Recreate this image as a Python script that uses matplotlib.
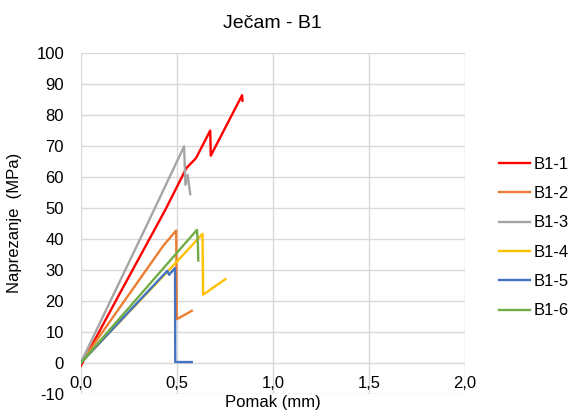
import matplotlib.pyplot as plt

plt.rcParams['font.family'] = ['Liberation Sans', 'DejaVu Sans']
plt.rcParams['axes.unicode_minus'] = False

# B1-1 .. B1-6: pomak (mm), naprezanje (MPa)
x1 = [0.0, 0.20, 0.44, 0.55, 0.60, 0.674, 0.677, 0.84, 0.842]
y1 = [-1.0, 22.0, 49.3, 62.8, 66.0, 74.9, 66.8, 86.3, 84.5]
x2 = [0.0, 0.43, 0.497, 0.50, 0.578]
y2 = [0.0, 37.8, 42.7, 14.1, 16.8]
x3 = [0.0, 0.36, 0.538, 0.545, 0.557, 0.57]
y3 = [0.0, 46.5, 69.8, 57.4, 60.6, 54.4]
x4 = [0.0, 0.465, 0.634, 0.637, 0.753]
y4 = [0.0, 30.3, 41.6, 22.0, 27.0]
x5 = [0.0, 0.451, 0.46, 0.491, 0.492, 0.578]
y5 = [0.0, 29.7, 28.4, 30.6, 0.3, 0.3]
x6 = [0.0, 0.605, 0.61, 0.612]
y6 = [0.0, 42.9, 38.0, 33.0]

labels = ['B1-1', 'B1-2', 'B1-3', 'B1-4', 'B1-5', 'B1-6']
boje = ['#ff0000', '#ed7d31', '#a5a5a5', '#ffc000', '#4472c4', '#70ad47']

fig = plt.figure(figsize=(5.76, 4.19), dpi=100)
ax = fig.add_axes([0.1401, 0.0597, 0.6672, 0.8146])

podaci = [(x1, y1), (x2, y2), (x3, y3), (x4, y4), (x5, y5), (x6, y6)]
for (x, y), lab, c in zip(podaci, labels, boje):
    ax.plot(x, y, color=c, lw=1.7, label=lab)

ax.set_xlim(0, 2.0)
ax.set_ylim(-10, 100)
ax.set_xticks([0, 0.5, 1.0, 1.5, 2.0])
ax.set_xticklabels(['0,0', '0,5', '1,0', '1,5', '2,0'])
ax.set_yticks(range(-10, 101, 10))
ax.grid(True, color='#d9d9d9', lw=1)
ax.set_axisbelow(True)
for s in ax.spines.values():
    s.set_visible(False)
ax.tick_params(length=0, labelsize=12, colors='#000000')
ax.tick_params(axis='y', pad=12)
ax.tick_params(axis='x', pad=-13)

ax.set_title('Ječam - B1', fontsize=14, pad=18)
ax.set_xlabel('Pomak (mm)', fontsize=12, labelpad=1)
ax.set_ylabel('Naprezanje  (MPa)', fontsize=12, labelpad=10)

ax.legend(loc='center left', bbox_to_anchor=(1.049, 0.458), frameon=False,
          fontsize=12, handlelength=1.86, labelspacing=0.86, handletextpad=0.2)

fig.savefig('out.png', dpi=100)
